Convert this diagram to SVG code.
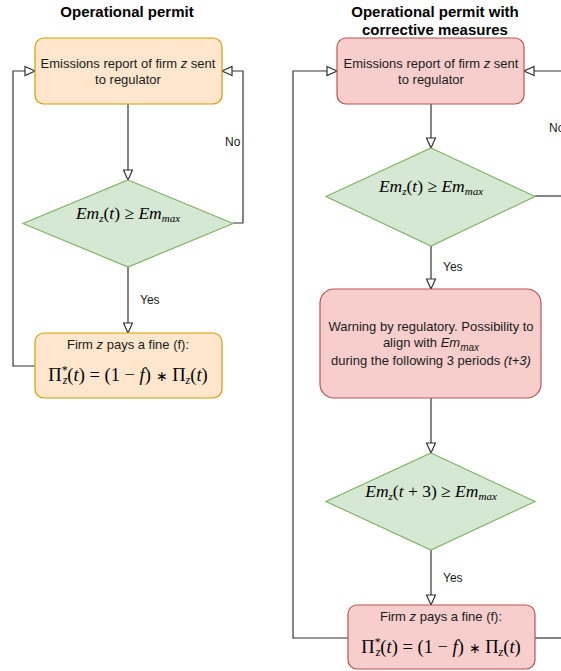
<svg xmlns="http://www.w3.org/2000/svg" width="561" height="671" viewBox="0 0 561 671">
<style>
.t{font-family:"Liberation Sans",Arial,sans-serif;font-size:13px;fill:#1a1a1a;text-anchor:middle}
.ttl{font-family:"Liberation Sans",Arial,sans-serif;font-size:15px;font-weight:bold;fill:#000;text-anchor:middle}
.lbl{font-family:"Liberation Sans",Arial,sans-serif;font-size:12px;fill:#1a1a1a}
.m{font-family:"Liberation Serif","Times New Roman",serif;font-size:17.5px;fill:#000;text-anchor:middle}
.p{font-size:18.5px}
.it{font-style:italic}
.or{fill:#ffe6cc;stroke:#d79b00;stroke-width:1.2}
.rd{fill:#f8cecc;stroke:#b85450;stroke-width:1.2}
.gr{fill:#d5e8d4;stroke:#82b366;stroke-width:1.2}
.c{fill:none;stroke:#333;stroke-width:1.2}
</style>
<defs>
<marker id="arr" markerUnits="userSpaceOnUse" markerWidth="12" markerHeight="12" refX="11" refY="5" orient="auto" viewBox="0 0 12 10">
<path d="M1,0.5 L11,5 L1,9.5 Z" fill="#fff" stroke="#333" stroke-width="1.2"/>
</marker>
</defs>
<text class="ttl" x="127" y="17">Operational permit</text>
<text class="ttl" x="435" y="17">Operational permit with</text>
<text class="ttl" x="435" y="35">corrective measures</text>

<g id="connectors">
<path class="c" d="M128,104 V180" marker-end="url(#arr)"/>
<path class="c" d="M128,267 V333" marker-end="url(#arr)"/>
<path class="c" d="M233,223 H243 V71 H222" marker-end="url(#arr)"/>
<path class="c" d="M35,366 H13 V71 H35" marker-end="url(#arr)"/>
<path class="c" d="M431,104 V148" marker-end="url(#arr)"/>
<path class="c" d="M431,246 V289" marker-end="url(#arr)"/>
<path class="c" d="M431,398 V453" marker-end="url(#arr)"/>
<path class="c" d="M431,550 V605" marker-end="url(#arr)"/>
<path class="c" d="M535,196 H562"/>
<path class="c" d="M562,71 H524" marker-end="url(#arr)"/>
<path class="c" d="M348,638 H293 V71 H337" marker-end="url(#arr)"/>
<path class="c" d="M535,638 H562"/>
<text class="lbl" x="225" y="146">No</text>
<text class="lbl" x="140" y="304">Yes</text>
<text class="lbl" x="549" y="132">No</text>
<text class="lbl" x="443" y="271">Yes</text>
<text class="lbl" x="443" y="582">Yes</text>
</g>

<g id="l-report">
<rect class="or" x="35" y="38" width="187" height="66" rx="9"/>
<text class="t" x="128" y="68">Emissions report of firm <tspan class="it">z</tspan> sent</text>
<text class="t" x="128" y="84">to regulator</text>
</g>
<g id="l-check">
<polygon class="gr" points="128,180 233,223.5 128,267 23,223.5"/>
<text class="m" x="128" y="219"><tspan class="it">Em</tspan><tspan class="it" font-size="11" dy="3">z</tspan><tspan dy="-3">(</tspan><tspan class="it">t</tspan>) ≥ <tspan class="it">Em</tspan><tspan class="it" font-size="11" dy="3">max</tspan></text>
</g>
<g id="l-fine">
<rect class="or" x="35" y="333" width="187" height="65" rx="9"/>
<text class="t" x="128" y="349">Firm <tspan class="it">z</tspan> pays a fine (f):</text>
<text class="m p" x="128" y="381">Π<tspan font-size="12" dy="-7">*</tspan><tspan class="it" font-size="12" dx="-5" dy="10">z</tspan><tspan dy="-3">(</tspan><tspan class="it">t</tspan>) = (1 − <tspan class="it">f</tspan>) <tspan font-size="14">∗</tspan> Π<tspan class="it" font-size="12" dy="3">z</tspan><tspan dy="-3">(</tspan><tspan class="it">t</tspan>)</text>
</g>

<g id="r-report">
<rect class="rd" x="337" y="38" width="187" height="66" rx="9"/>
<text class="t" x="431" y="68">Emissions report of firm <tspan class="it">z</tspan> sent</text>
<text class="t" x="431" y="84">to regulator</text>
</g>
<g id="r-check">
<polygon class="gr" points="431,148 535,196.5 431,246 326,196.5"/>
<text class="m" x="431" y="192"><tspan class="it">Em</tspan><tspan class="it" font-size="11" dy="3">z</tspan><tspan dy="-3">(</tspan><tspan class="it">t</tspan>) ≥ <tspan class="it">Em</tspan><tspan class="it" font-size="11" dy="3">max</tspan></text>
</g>
<g id="r-warning">
<rect class="rd" x="320" y="289" width="221" height="109" rx="14"/>
<text class="t" x="431" y="331">Warning by regulatory. Possibility to</text>
<text class="t" x="431" y="347">align with <tspan class="it">Em</tspan><tspan class="it" font-size="10" dy="4">max</tspan></text>
<text class="t" x="431" y="365"> during the following 3 periods <tspan class="it">(t+3)</tspan></text>
</g>
<g id="r-check2">
<polygon class="gr" points="431,453 535,501.5 431,550 326,501.5"/>
<text class="m" x="431" y="497"><tspan class="it">Em</tspan><tspan class="it" font-size="11" dy="3">z</tspan><tspan dy="-3">(</tspan><tspan class="it">t</tspan> + 3) ≥ <tspan class="it">Em</tspan><tspan class="it" font-size="11" dy="3">max</tspan></text>
</g>
<g id="r-fine">
<rect class="rd" x="348" y="605" width="187" height="64" rx="9"/>
<text class="t" x="441" y="621">Firm <tspan class="it">z</tspan> pays a fine (f):</text>
<text class="m p" x="441" y="653">Π<tspan font-size="12" dy="-7">*</tspan><tspan class="it" font-size="12" dx="-5" dy="10">z</tspan><tspan dy="-3">(</tspan><tspan class="it">t</tspan>) = (1 − <tspan class="it">f</tspan>) <tspan font-size="14">∗</tspan> Π<tspan class="it" font-size="12" dy="3">z</tspan><tspan dy="-3">(</tspan><tspan class="it">t</tspan>)</text>
</g>
</svg>
